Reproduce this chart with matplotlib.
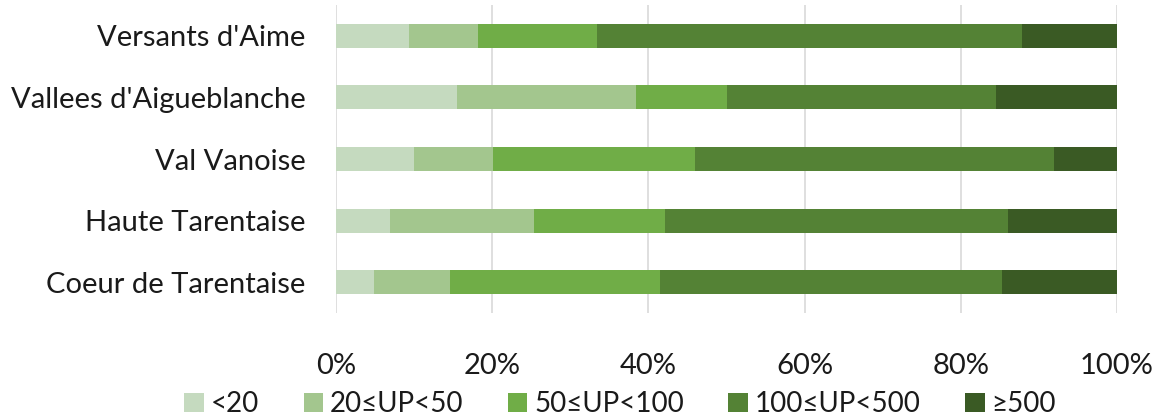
import matplotlib
matplotlib.use('Agg')
import matplotlib.pyplot as plt
import numpy as np

plt.rcParams['font.family'] = ['Lato', 'DejaVu Sans']

# data (share of farms by size class, %)
regions = ["Versants d'Aime", "Vallees d'Aigueblanche", "Val Vanoise",
           "Haute Tarentaise", "Coeur de Tarentaise"]
classes = ['<20', '20≤UP<50', '50≤UP<100', '100≤UP<500', '≥500']
lt20 = [9.3, 15.5, 10.0, 6.9, 4.9]
c20_50 = [8.9, 22.9, 10.1, 18.5, 9.7]
c50_100 = [15.2, 11.7, 25.9, 16.7, 26.9]
c100_500 = [54.4, 34.4, 45.9, 44.0, 43.8]
ge500 = [12.2, 15.5, 8.1, 13.9, 14.7]
colors = ['#C5DABF', '#A3C68E', '#70AD47', '#548235', '#3A5A24']

series = [lt20, c20_50, c50_100, c100_500, ge500]

fig = plt.figure(figsize=(11.55, 4.17), dpi=100)
ax = fig.add_axes([0.291, 0.249, 0.676, 0.739])

y = np.arange(len(regions))[::-1]
left = np.zeros(len(regions))
for vals, lab, col in zip(series, classes, colors):
    ax.barh(y, vals, left=left, height=0.39, color=col, label=lab, zorder=3)
    left += np.array(vals)

ax.set_xlim(0, 100)
ax.set_ylim(-0.5, len(regions) - 0.5)
ax.set_xticks(np.arange(0, 101, 20))
ax.set_xticklabels([f'{t}%' for t in range(0, 101, 20)])
ax.set_yticks(y)
ax.set_yticklabels(regions)
ax.grid(axis='x', color='#D9D9D9', linewidth=1.2, zorder=0)
for s in ax.spines.values():
    s.set_visible(False)
ax.tick_params(axis='both', length=0, labelsize=21, colors='#1A1A1A')
ax.tick_params(axis='x', pad=29)
ax.tick_params(axis='y', pad=22)

fig.legend(loc='center', bbox_to_anchor=(0.537, 0.03), ncol=5, frameon=False,
           fontsize=20, handlelength=0.7, handleheight=0.7, handletextpad=0.25,
           columnspacing=1.6, labelcolor='#1A1A1A')

fig.savefig('out.png', dpi=100)
